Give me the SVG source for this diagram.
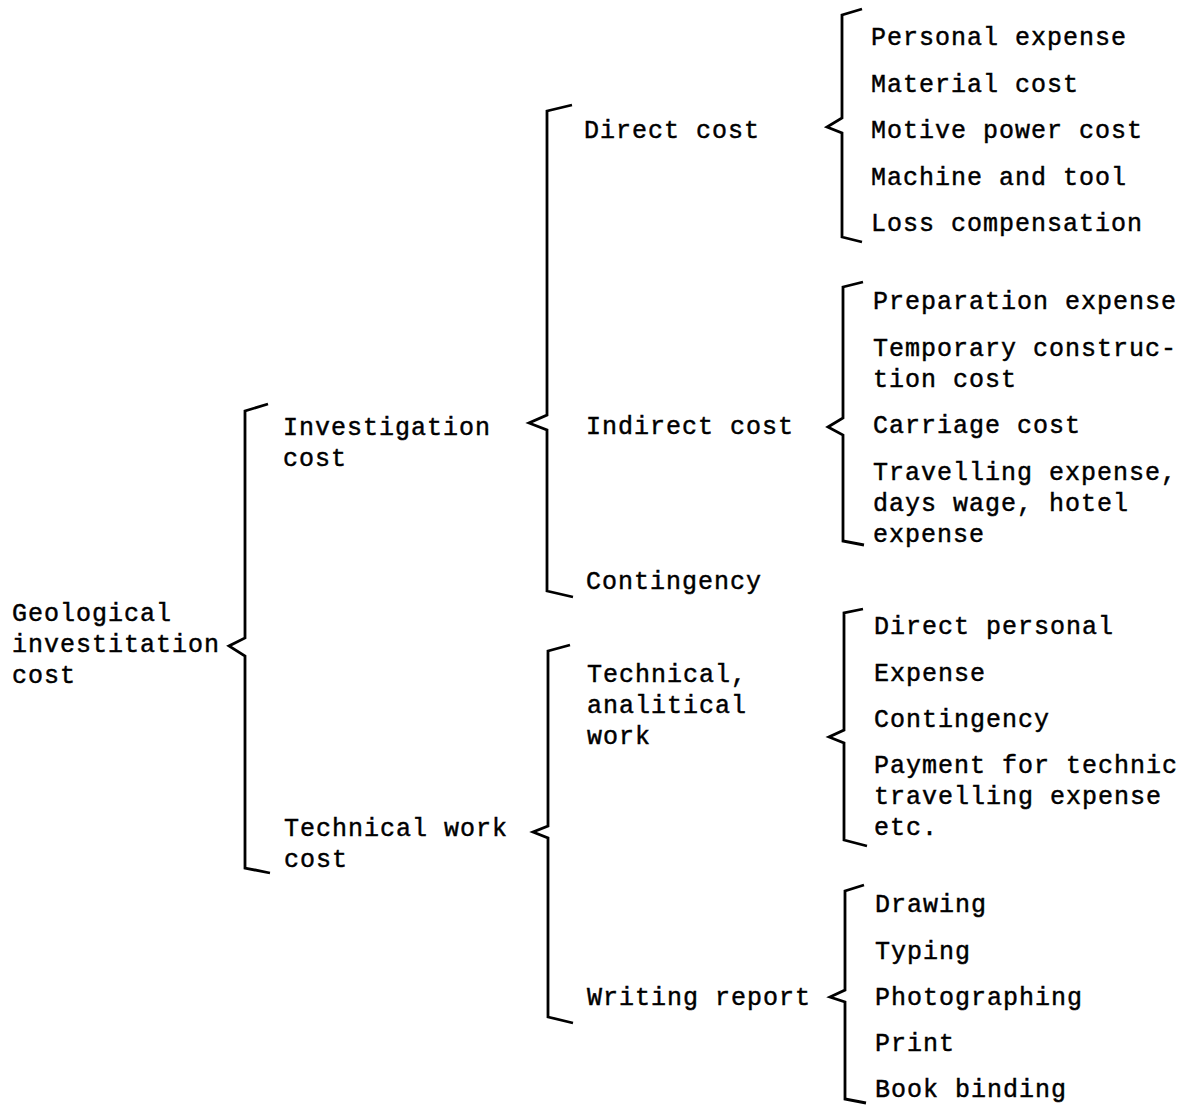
<svg xmlns="http://www.w3.org/2000/svg" width="1186" height="1106" viewBox="0 0 1186 1106">
<style>
text{font-family:"Liberation Mono","Courier New",monospace;font-size:25px;letter-spacing:1px;fill:#000;stroke:#000;stroke-width:0.45px}
.br{fill:none;stroke:#000;stroke-width:2.8;stroke-linejoin:miter;stroke-linecap:butt}
</style>
<rect width="1186" height="1106" fill="#fff"/>
<g id="connectors">
<path class="br" d="M268,404 L245,411 L245,638 L229,646 L245,656 L245,868 L270,873"/>
<path class="br" d="M572,105 L547,111 L547,415 L529,423 L547,430 L547,591 L573,597"/>
<path class="br" d="M862,9 L842,15 L842,118 L827,127 L842,133 L842,237 L862,242"/>
<path class="br" d="M863,282 L843,287 L843,418 L828,427 L843,435 L843,541 L864,545"/>
<path class="br" d="M570,645 L548,651 L548,826 L533,832 L548,838 L548,1017 L573,1023"/>
<path class="br" d="M863,609 L844,613 L844,730 L829,737 L844,743 L844,840 L867,846"/>
<path class="br" d="M864,885 L845,891 L845,990 L830,997 L845,1002 L845,1099 L866,1103"/>
</g>
<g id="n-root"><text x="12" y="621">Geological</text><text x="12" y="652">investitation</text><text x="12" y="683">cost</text></g>
<g id="n-investigation"><text x="283" y="435">Investigation</text><text x="283" y="466">cost</text></g>
<g id="n-technical-work"><text x="284" y="836">Technical work</text><text x="284" y="867">cost</text></g>
<g id="n-direct"><text x="584" y="138">Direct cost</text></g>
<g id="n-indirect"><text x="586" y="434">Indirect cost</text></g>
<g id="n-contingency1"><text x="586" y="589">Contingency</text></g>
<g id="n-tech-analytical"><text x="587" y="682">Technical,</text><text x="587" y="713">analitical</text><text x="587" y="744">work</text></g>
<g id="n-writing"><text x="587" y="1005">Writing report</text></g>
<g id="n-personal"><text x="871" y="45">Personal expense</text></g>
<g id="n-material"><text x="871" y="92">Material cost</text></g>
<g id="n-motive"><text x="871" y="138">Motive power cost</text></g>
<g id="n-machine"><text x="871" y="185">Machine and tool</text></g>
<g id="n-loss"><text x="871" y="231">Loss compensation</text></g>
<g id="n-preparation"><text x="873" y="309">Preparation expense</text></g>
<g id="n-temporary"><text x="873" y="356">Temporary construc-</text><text x="873" y="387">tion cost</text></g>
<g id="n-carriage"><text x="873" y="433">Carriage cost</text></g>
<g id="n-travelling"><text x="873" y="480">Travelling expense,</text><text x="873" y="511">days wage, hotel</text><text x="873" y="542">expense</text></g>
<g id="n-direct-personal"><text x="874" y="634">Direct personal</text></g>
<g id="n-expense"><text x="874" y="681">Expense</text></g>
<g id="n-contingency2"><text x="874" y="727">Contingency</text></g>
<g id="n-payment"><text x="874" y="773">Payment for technic</text><text x="874" y="804">travelling expense</text><text x="874" y="835">etc.</text></g>
<g id="n-drawing"><text x="875" y="912">Drawing</text></g>
<g id="n-typing"><text x="875" y="959">Typing</text></g>
<g id="n-photographing"><text x="875" y="1005">Photographing</text></g>
<g id="n-print"><text x="875" y="1051">Print</text></g>
<g id="n-binding"><text x="875" y="1097">Book binding</text></g>
</svg>
